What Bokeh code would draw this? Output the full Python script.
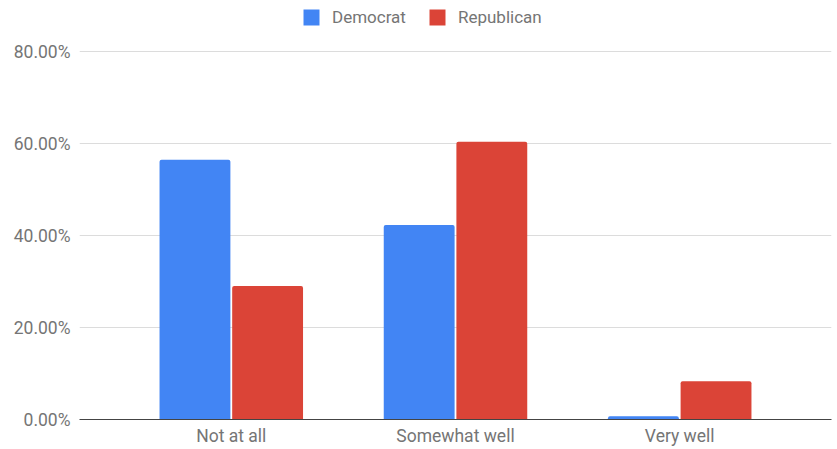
from bokeh.plotting import figure
from bokeh.models import FactorRange, Range1d, FixedTicker, PrintfTickFormatter, Legend, LegendItem, ColumnDataSource
from bokeh.transform import dodge
from bokeh.embed import file_html
from bokeh.resources import INLINE

categories = ["Not at all", "Somewhat well", "Very well"]
democrat = [56.5, 42.3, 0.7]
republican = [29.0, 60.4, 8.3]
y_ticks = [0, 20, 40, 60, 80]
series_names = ["Democrat", "Republican"]
colors = ["#4285F4", "#DB4437"]

source = ColumnDataSource(dict(cat=categories, dem=democrat, rep=republican))

FONT = "Roboto"
GRAY = "#757575"

p = figure(
    x_range=FactorRange(factors=categories, range_padding=0.177, range_padding_units="absolute"),
    y_range=Range1d(0, 91.1),
    width=836, height=448,
    output_backend="svg", toolbar_location=None,
    min_border_left=79, min_border_right=5, min_border_top=0, min_border_bottom=10,
)
p.outline_line_color = None
p.background_fill_color = "white"

r_dem = p.vbar(x=dodge("cat", -0.162, range=p.x_range), top="dem", bottom=0, width=0.316,
               source=source, fill_color=colors[0], line_color=None, border_radius=(2, 2, 0, 0))
r_rep = p.vbar(x=dodge("cat", 0.162, range=p.x_range), top="rep", bottom=0, width=0.316,
               source=source, fill_color=colors[1], line_color=None, border_radius=(2, 2, 0, 0))

# axes
p.yaxis.ticker = FixedTicker(ticks=y_ticks)
p.yaxis.formatter = PrintfTickFormatter(format="%.2f%%")
p.yaxis.axis_line_color = None
p.yaxis.major_tick_line_color = None
p.yaxis.minor_tick_line_color = None
p.yaxis.major_label_text_font = FONT
p.yaxis.major_label_text_font_size = "17.5px"
p.yaxis.major_label_text_color = GRAY
p.yaxis.major_label_standoff = 3

p.xaxis.axis_line_color = "#444444"
p.xaxis.axis_line_width = 1.2
p.xaxis.major_tick_line_color = None
p.xaxis.minor_tick_line_color = None
p.xaxis.major_label_text_font = FONT
p.xaxis.major_label_text_font_size = "17.5px"
p.xaxis.major_label_text_color = GRAY
p.xaxis.major_label_standoff = 0

p.xgrid.visible = False
p.ygrid.grid_line_color = "#dcdcdc"
p.ygrid.grid_line_width = 1.2

legend = Legend(
    items=[LegendItem(label=series_names[0], renderers=[r_dem]),
           LegendItem(label=series_names[1], renderers=[r_rep])],
    orientation="horizontal", location=(222, 392),
    border_line_color=None, background_fill_alpha=0,
    label_text_font=FONT, label_text_font_size="17px", label_text_color=GRAY,
    glyph_width=20, glyph_height=20, label_standoff=11, spacing=21,
    padding=0, margin=0,
)
p.add_layout(legend, "center")

open("out.html", "w").write(file_html(p, INLINE))
